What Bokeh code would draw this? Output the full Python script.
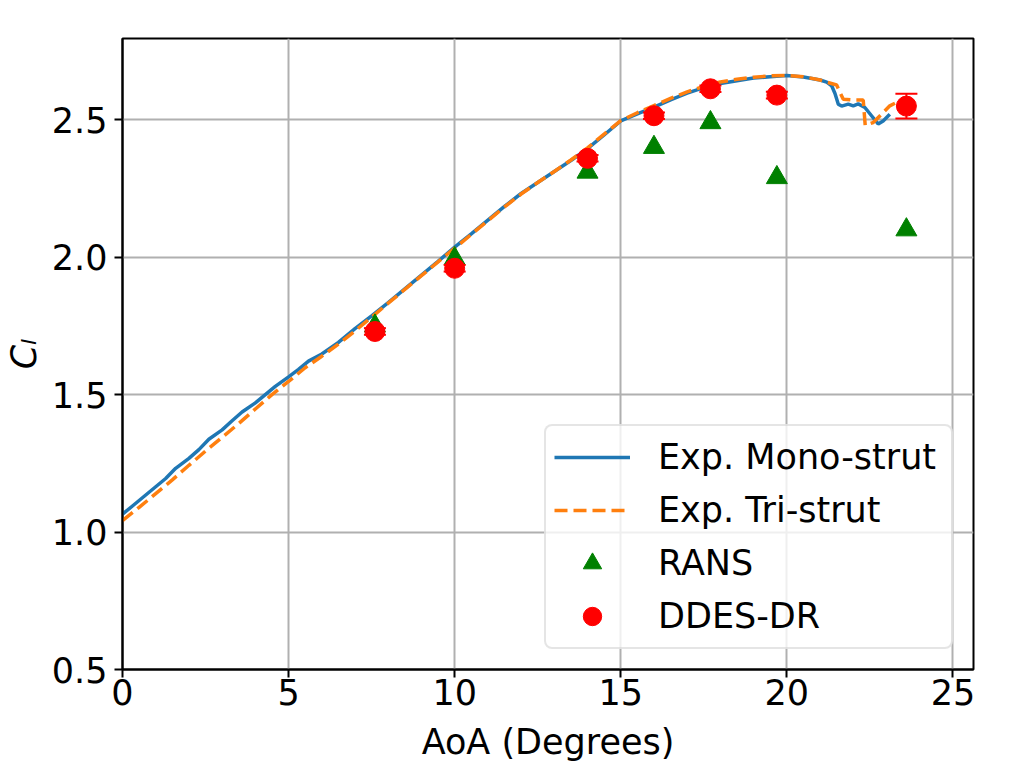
from bokeh.plotting import figure
from bokeh.models import (Range1d, FixedTicker, PrintfTickFormatter, ColumnDataSource,
                          Whisker, TeeHead, Legend, LegendItem)
from bokeh.embed import file_html
from bokeh.resources import INLINE

# ---------------- data ----------------
mono_aoa = [0.0, 0.3, 0.6, 1.0, 1.3, 1.6, 2.0, 2.3, 2.6, 3.0, 3.3, 3.6, 4.0, 4.3, 4.6,
            5.0, 5.3, 5.6, 6.0, 6.5, 7.0, 7.5, 8.0, 8.5, 9.0, 9.5, 10.0, 10.5, 11.0,
            11.5, 12.0, 12.5, 13.0, 13.5, 14.0, 14.5, 15.0, 15.5, 16.0, 16.5, 17.0,
            17.5, 18.0, 18.5, 19.0, 19.5, 20.0, 20.5, 21.0, 21.2, 21.35, 21.45, 21.55,
            21.65, 21.85, 22.0, 22.15, 22.35, 22.55, 22.75, 22.9, 23.1]
mono_cl = [1.065, 1.095, 1.125, 1.165, 1.195, 1.232, 1.268, 1.300, 1.338, 1.372, 1.405,
           1.437, 1.470, 1.500, 1.530, 1.565, 1.592, 1.622, 1.648, 1.690, 1.740, 1.787,
           1.835, 1.885, 1.935, 1.985, 2.037, 2.085, 2.135, 2.185, 2.232, 2.272, 2.312,
           2.352, 2.395, 2.445, 2.496, 2.522, 2.546, 2.573, 2.597, 2.617, 2.632, 2.642,
           2.652, 2.657, 2.661, 2.656, 2.645, 2.637, 2.624, 2.596, 2.557, 2.550, 2.557,
           2.551, 2.558, 2.545, 2.515, 2.485, 2.496, 2.520]

tri_aoa = [0.0, 0.5, 1.0, 1.5, 2.0, 2.5, 3.0, 3.5, 4.0, 4.5, 5.0, 5.5, 6.0, 6.5, 7.0,
           7.5, 8.0, 8.5, 9.0, 9.5, 10.0, 10.5, 11.0, 11.5, 12.0, 12.5, 13.0, 13.5,
           14.0, 14.5, 15.0, 15.5, 16.0, 16.5, 17.0, 17.5, 18.0, 18.5, 19.0, 19.5,
           20.0, 20.5, 21.0, 21.2, 21.5, 21.6, 21.7, 22.0, 22.3, 22.36, 22.6, 22.85,
           23.1, 23.3, 23.6, 23.9]
tri_cl = [1.042, 1.090, 1.140, 1.190, 1.243, 1.295, 1.345, 1.395, 1.448, 1.500, 1.548,
          1.598, 1.640, 1.684, 1.732, 1.782, 1.833, 1.883, 1.933, 1.983, 2.033, 2.083,
          2.133, 2.183, 2.230, 2.272, 2.312, 2.354, 2.398, 2.448, 2.497, 2.526, 2.552,
          2.578, 2.602, 2.622, 2.638, 2.648, 2.655, 2.660, 2.662, 2.657, 2.645, 2.637,
          2.627, 2.600, 2.575, 2.572, 2.572, 2.480, 2.490, 2.520, 2.551, 2.563, 2.560,
          2.556]

rans_aoa = [7.6, 10.0, 14.0, 16.0, 17.7, 19.7, 23.6]
rans_cl = [1.75, 1.995, 2.31, 2.40, 2.49, 2.29, 2.10]

ddes_aoa = [7.6, 10.0, 14.0, 16.0, 17.7, 19.7, 23.6]
ddes_cl = [1.73, 1.96, 2.36, 2.515, 2.613, 2.59, 2.55]
ddes_err = [0.012, 0.012, 0.012, 0.012, 0.012, 0.012, 0.045]

x_ticks = [0, 5, 10, 15, 20, 25]
y_ticks = [0.5, 1.0, 1.5, 2.0, 2.5]

x_label = "AoA (Degrees)"
y_label = "C\u2097"
series_labels = ["Exp. Mono-strut", "Exp. Tri-strut", "RANS", "DDES-DR"]

FONT = "DejaVu Sans"
FS = "35px"

# ---------------- figure ----------------
p = figure(width=1024, height=768, output_backend="svg", toolbar_location=None,
           x_range=Range1d(0, 25.62), y_range=Range1d(0.5, 2.796),
           min_border_left=122, min_border_right=51, min_border_top=38,
           min_border_bottom=99)
p.background_fill_color = "white"
p.border_fill_color = "white"
p.outline_line_color = "black"
p.outline_line_width = 2

for ax in (p.xaxis[0], p.yaxis[0]):
    ax.axis_line_width = 2
    ax.axis_line_color = "black"
    ax.major_tick_line_width = 2
    ax.major_tick_line_color = "black"
    ax.major_tick_out = 8
    ax.major_tick_in = 0
    ax.minor_tick_line_color = None
    ax.major_label_text_font = FONT
    ax.major_label_text_font_size = FS
    ax.major_label_text_color = "black"
    ax.axis_label_text_font = FONT
    ax.axis_label_text_font_size = FS
    ax.axis_label_text_color = "black"

p.xaxis.ticker = FixedTicker(ticks=x_ticks)
p.xaxis.formatter = PrintfTickFormatter(format="%d")
p.yaxis.ticker = FixedTicker(ticks=y_ticks)
p.yaxis.formatter = PrintfTickFormatter(format="%.1f")
p.xaxis.axis_label = x_label
p.yaxis.axis_label = y_label
p.xaxis.axis_label_text_font_style = "normal"
p.yaxis.axis_label_text_font_style = "italic"
p.xaxis.major_label_standoff = 1
p.xaxis.axis_label_standoff = 14
p.yaxis.major_label_standoff = 7
p.yaxis.axis_label_standoff = 5

p.xgrid.ticker = FixedTicker(ticks=x_ticks)
p.ygrid.ticker = FixedTicker(ticks=y_ticks)
for g in (p.xgrid[0], p.ygrid[0]):
    g.grid_line_color = "#b0b0b0"
    g.grid_line_width = 2

# ---------------- glyphs ----------------
mono = p.line(mono_aoa, mono_cl, line_color="#1f77b4", line_width=3.5)
tri = p.line(tri_aoa, tri_cl, line_color="#ff7f0e", line_width=3.5, line_dash="13 6")
rans = p.scatter(rans_aoa, rans_cl, marker="triangle", size=21,
                 fill_color="green", line_color="green")

err_src = ColumnDataSource(dict(
    x=ddes_aoa,
    lower=[c - e for c, e in zip(ddes_cl, ddes_err)],
    upper=[c + e for c, e in zip(ddes_cl, ddes_err)],
))
whisk = Whisker(source=err_src, base="x", lower="lower", upper="upper",
                dimension="height", line_color="red", line_width=2,
                upper_head=TeeHead(size=22, line_color="red", line_width=2),
                lower_head=TeeHead(size=22, line_color="red", line_width=2))
whisk.level = "glyph"
p.add_layout(whisk)

ddes = p.scatter(ddes_aoa, ddes_cl, marker="circle", size=20,
                 fill_color="red", line_color="red", line_width=1)

legend = Legend(items=[
    LegendItem(label=series_labels[0], renderers=[mono]),
    LegendItem(label=series_labels[1], renderers=[tri]),
    LegendItem(label=series_labels[2], renderers=[rans]),
    LegendItem(label=series_labels[3], renderers=[ddes]),
], location="bottom_right")
legend.margin = 20
legend.padding = 8
legend.spacing = 7
legend.glyph_width = 76
legend.glyph_height = 46
legend.label_height = 40
legend.label_width = 285
legend.label_standoff = 28
legend.label_text_font = FONT
legend.label_text_font_size = FS
legend.label_text_color = "black"
legend.border_line_color = "#cccccc"
legend.border_line_width = 2
legend.background_fill_color = "white"
legend.background_fill_alpha = 0.8
try:
    legend.border_radius = 8
except Exception:
    pass
p.add_layout(legend)

open("out.html", "w").write(file_html(p, INLINE))
